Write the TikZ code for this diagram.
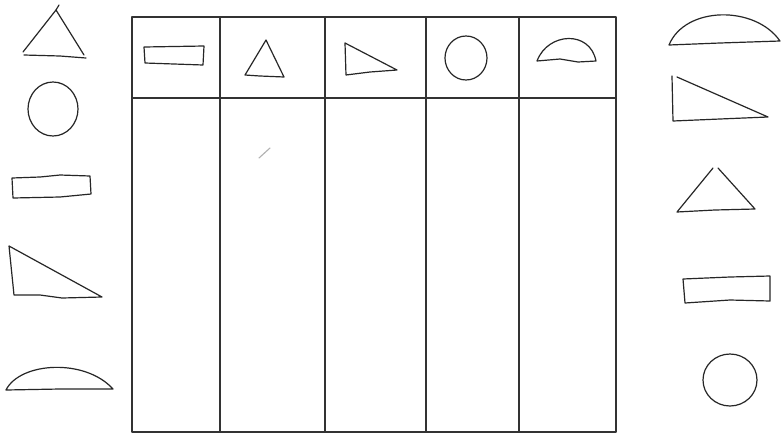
\documentclass[tikz,border=0pt]{standalone}
\usepackage{xcolor}
\usepackage{tikz}

\begin{document}
\begin{tikzpicture}[x=0.025cm, y=-0.025cm, line join=round, line cap=round,
    pencil/.style={draw=black!85, line width=0.85pt},
    ruling/.style={draw=black!80, line width=1.1pt},
    smudge/.style={draw=black!30, line width=0.8pt}]

    \useasboundingbox[fill=white] (0,0) rectangle (784,435);

    % Table
    \draw[ruling] (132,17) rectangle (616,432);
    \draw[ruling] (133,98) -- (615,98);
    \foreach \x in {220,325,426,519}
        \draw[ruling] (\x,17) -- (\x,432);
    \draw[smudge] (259,158) -- (270,148);

    % Header shapes
    \draw[pencil] (144,47) -- (204,46) -- (203,65) -- (145,63) -- cycle;
    \draw[pencil] (266,40) -- (284,77) -- (260,76) -- (245,75) -- cycle;
    \draw[pencil] (345,43) -- (397,70) -- (370,72) -- (346,75) -- cycle;
    \draw[pencil] (466,58) ellipse [x radius=21, y radius=22];
    \draw[pencil] (537,61) .. controls (548,32) and (590,30) .. (596,61)
        -- (578,62) -- (560,59) -- cycle;

    % Left shapes
    \draw[pencil] (59,5) -- (56,10) -- (23,52);
    \draw[pencil] (56,10) -- (84,55);
    \draw[pencil] (24,55) -- (60,56) -- (86,58);
    \draw[pencil] (53,109) ellipse [x radius=25, y radius=27];
    \draw[pencil] (12,178) -- (40,177) -- (60,175) -- (90,176) -- (91,194)
        -- (60,197) -- (13,198) -- cycle;
    \draw[pencil] (9,246) -- (102,297) -- (62,298) -- (40,295) -- (14,295) -- cycle;
    \draw[pencil] (6,390) .. controls (20,362) and (85,358) .. (113,389)
        -- (60,389) -- cycle;

    % Right shapes
    \draw[pencil] (669,45) .. controls (685,6) and (755,5) .. (780,41)
        -- (720,43) -- cycle;
    \draw[pencil] (677,77) -- (768,117) -- (720,119) -- (673,121) -- (672,76);
    \draw[pencil] (713,168) -- (677,212) -- (715,210) -- (755,209) -- (718,168);
    \draw[pencil] (683,279) -- (730,277) -- (770,276) -- (770,301)
        -- (730,300) -- (685,303) -- cycle;
    \draw[pencil] (730,380) ellipse [x radius=27, y radius=26];
\end{tikzpicture}
\end{document}
